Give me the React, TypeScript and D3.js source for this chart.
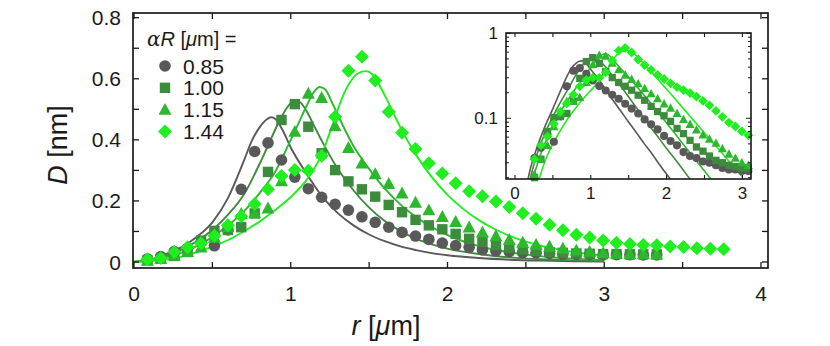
import React from 'react';
import * as d3 from 'd3';

// sample positions r [um] shared by every measured series
const rGrid = [0.086, 0.171, 0.257, 0.342, 0.428, 0.513, 0.599, 0.684, 0.77, 0.855, 0.941, 1.026, 1.112, 1.197, 1.283, 1.368, 1.454, 1.539, 1.625, 1.71, 1.796, 1.881, 1.967, 2.052, 2.138, 2.223, 2.309, 2.394, 2.48, 2.565, 2.651, 2.736, 2.822, 2.907, 2.993, 3.078, 3.164, 3.249, 3.335, 3.42, 3.506, 3.591, 3.677, 3.762];

// measured D [nm]
const d085 = [0.010, 0.018, 0.034, 0.045, 0.065, 0.053, 0.105, 0.238, 0.362, 0.390, 0.334, 0.278, 0.240, 0.212, 0.189, 0.170, 0.148, 0.130, 0.114, 0.097, 0.085, 0.074, 0.062, 0.054, 0.048, 0.040, 0.036, 0.034, 0.031, 0.030, 0.028, 0.026, 0.025, 0.025, 0.024, 0.024, 0.024, 0.023, 0.023];
const d100 = [0.006, 0.011, 0.020, 0.033, 0.070, 0.102, 0.105, 0.114, 0.159, 0.295, 0.465, 0.517, 0.443, 0.356, 0.301, 0.264, 0.238, 0.214, 0.187, 0.163, 0.138, 0.120, 0.107, 0.092, 0.076, 0.066, 0.055, 0.046, 0.041, 0.036, 0.032, 0.030, 0.028, 0.027, 0.026, 0.026, 0.025, 0.025, 0.025];
const d115 = [0.005, 0.011, 0.022, 0.033, 0.048, 0.080, 0.115, 0.158, 0.160, 0.176, 0.265, 0.427, 0.552, 0.538, 0.445, 0.374, 0.323, 0.288, 0.256, 0.225, 0.195, 0.170, 0.148, 0.132, 0.114, 0.097, 0.085, 0.073, 0.064, 0.057, 0.051, 0.044, 0.038, 0.034, 0.030, 0.028, 0.026, 0.026, 0.025];
const d144 = [0.009, 0.013, 0.033, 0.048, 0.061, 0.086, 0.120, 0.150, 0.190, 0.238, 0.282, 0.301, 0.299, 0.348, 0.476, 0.626, 0.672, 0.594, 0.492, 0.423, 0.370, 0.323, 0.290, 0.258, 0.232, 0.215, 0.198, 0.180, 0.160, 0.142, 0.122, 0.104, 0.089, 0.080, 0.070, 0.063, 0.059, 0.056, 0.055, 0.051, 0.049, 0.045, 0.043, 0.042];

// model curves [r, D]
const fit085 = [[0, 0.001], [0.1, 0.007], [0.15, 0.015], [0.2, 0.025], [0.3, 0.048], [0.4, 0.082], [0.5, 0.13], [0.6, 0.21], [0.7, 0.33], [0.75, 0.395], [0.8, 0.44], [0.85, 0.468], [0.875, 0.474], [0.9, 0.469], [0.95, 0.43], [1.0, 0.375], [1.1, 0.29], [1.2, 0.215], [1.3, 0.16], [1.4, 0.12], [1.5, 0.09], [1.6, 0.068], [1.7, 0.051], [1.8, 0.039], [1.9, 0.029], [2.0, 0.022], [2.2, 0.013], [2.4, 0.0075], [2.6, 0.0045], [2.8, 0.0026], [3.0, 0.0015]];
const fit100 = [[0, 0.001], [0.1, 0.006], [0.2, 0.019], [0.3, 0.04], [0.4, 0.068], [0.5, 0.105], [0.6, 0.155], [0.7, 0.22], [0.8, 0.32], [0.88, 0.41], [0.94, 0.475], [1.0, 0.52], [1.03, 0.528], [1.06, 0.523], [1.1, 0.495], [1.15, 0.445], [1.2, 0.395], [1.3, 0.305], [1.4, 0.235], [1.5, 0.178], [1.6, 0.134], [1.7, 0.101], [1.8, 0.076], [1.9, 0.058], [2.0, 0.044], [2.1, 0.034], [2.2, 0.026], [2.3, 0.0197], [2.4, 0.015], [2.6, 0.0089], [2.8, 0.0053], [3.0, 0.0032]];
const fit115 = [[0, 0.001], [0.1, 0.005], [0.2, 0.014], [0.3, 0.03], [0.4, 0.052], [0.5, 0.082], [0.6, 0.12], [0.7, 0.165], [0.8, 0.225], [0.9, 0.295], [1.0, 0.4], [1.05, 0.455], [1.1, 0.51], [1.15, 0.558], [1.185, 0.573], [1.22, 0.565], [1.27, 0.515], [1.32, 0.46], [1.4, 0.38], [1.5, 0.305], [1.6, 0.24], [1.7, 0.188], [1.8, 0.147], [1.9, 0.114], [2.0, 0.088], [2.1, 0.068], [2.2, 0.052], [2.3, 0.04], [2.4, 0.031], [2.5, 0.024], [2.6, 0.0185], [2.8, 0.011], [3.0, 0.0066]];
const fit144 = [[0, 0.001], [0.1, 0.003], [0.2, 0.008], [0.3, 0.017], [0.4, 0.032], [0.5, 0.05], [0.6, 0.072], [0.7, 0.1], [0.8, 0.132], [0.9, 0.17], [1.0, 0.213], [1.1, 0.268], [1.2, 0.355], [1.27, 0.455], [1.33, 0.54], [1.38, 0.59], [1.43, 0.618], [1.48, 0.625], [1.52, 0.615], [1.57, 0.575], [1.62, 0.525], [1.7, 0.44], [1.8, 0.35], [1.9, 0.278], [2.0, 0.22], [2.1, 0.174], [2.2, 0.137], [2.3, 0.108], [2.4, 0.085], [2.5, 0.067], [2.6, 0.053], [2.7, 0.042], [2.8, 0.033], [2.9, 0.026], [3.0, 0.0205]];

const labels = ['0.85', '1.00', '1.15', '1.44'];
const colors = ['#595959', '#3d8b3d', '#2cb82c', '#1fee1f'];
const shapes = ['circle', 'square', 'triangle', 'diamond'];

const xTickLabels = [0, 1, 2, 3, 4];
const yTickLabels = [0, 0.2, 0.4, 0.6, 0.8];
const insetXLabels = [0, 1, 2, 3];
const insetYLabels = [0.1, 1];

const series = labels.map((label, i) => ({
  label,
  color: colors[i],
  shape: shapes[i],
  points: [d085, d100, d115, d144][i].map((v, k) => ({ r: rGrid[k], d: v })),
  fit: [fit085, fit100, fit115, fit144][i],
}));

const FONT = '"Liberation Sans", Arial, Helvetica, sans-serif';
const INK = '#1a1a1a';

function Marker({ shape, x, y, s, color }: { shape: string; x: number; y: number; s: number; color: string }) {
  if (shape === 'circle') return <circle cx={x} cy={y} r={5.8 * s} fill={color} />;
  if (shape === 'square') return <rect x={x - 5.2 * s} y={y - 5.2 * s} width={10.4 * s} height={10.4 * s} fill={color} />;
  if (shape === 'triangle') {
    return <path d={`M${x},${y - 6.7 * s}L${x + 6.5 * s},${y + 5.2 * s}L${x - 6.5 * s},${y + 5.2 * s}Z`} fill={color} />;
  }
  return <path d={`M${x},${y - 7 * s}L${x + 7 * s},${y}L${x},${y + 7 * s}L${x - 7 * s},${y}Z`} fill={color} />;
}

const App = () => {
  // main panel
  const frame = { left: 133, right: 768, top: 13, bottom: 268 };
  const x = d3.scaleLinear().domain([0, 4]).range([134, 761]);
  const y = d3.scaleLinear().domain([0, 0.8]).range([262, 17.7]);

  // inset panel
  const inset = { left: 506, right: 751, top: 33, bottom: 179 };
  const xi = d3.scaleLinear().domain([0, 3]).range([515, 742.4]);
  const yi = d3.scaleLog().domain([0.0193, 1]).range([179, 33.3]);

  const line = d3.line<number[]>().x(d => x(d[0])).y(d => y(d[1])).curve(d3.curveMonotoneX);
  const lineI = d3.line<number[]>().x(d => xi(d[0])).y(d => yi(d[1])).curve(d3.curveMonotoneX);

  const mainXTicks = d3.range(0, 4.01, 0.5);
  const mainYTicks = d3.range(0, 0.81, 0.1);
  const insetXTicks = d3.range(0, 3.01, 0.5);
  const insetYTicks = yi.ticks();

  const rowY = (i: number) => 66 + i * 21.8;

  return (
    <svg width={830} height={346} style={{ position: 'absolute', left: 0, top: 0, background: '#fff' }} fontFamily={FONT}>
      <defs>
        <clipPath id="main-clip">
          <rect x={frame.left} y={frame.top} width={frame.right - frame.left} height={frame.bottom - frame.top} />
        </clipPath>
        <clipPath id="inset-clip">
          <rect x={inset.left} y={inset.top} width={inset.right - inset.left} height={inset.bottom - inset.top} />
        </clipPath>
      </defs>

      {/* fits */}
      <g clipPath="url(#main-clip)">
        {series.map(s => (
          <path key={s.label} d={line(s.fit) || ''} fill="none" stroke={s.color} strokeWidth={1.9} />
        ))}
      </g>

      {/* measured points */}
      {series.map(s => (
        <g key={s.label}>
          {s.points.map((p, k) => (
            <Marker key={k} shape={s.shape} x={x(p.r)} y={y(p.d)} s={1} color={s.color} />
          ))}
        </g>
      ))}

      {/* main frame and ticks */}
      <rect x={frame.left} y={frame.top} width={frame.right - frame.left} height={frame.bottom - frame.top} fill="none" stroke={INK} strokeWidth={1.7} />
      {mainXTicks.map(t => (
        <g key={`mx${t}`} stroke={INK} strokeWidth={1.3}>
          <line x1={x(t)} x2={x(t)} y1={frame.bottom} y2={frame.bottom - 6} />
          <line x1={x(t)} x2={x(t)} y1={frame.top} y2={frame.top + 6} />
        </g>
      ))}
      {mainYTicks.map(t => (
        <g key={`my${t}`} stroke={INK} strokeWidth={1.3}>
          <line x1={frame.left} x2={frame.left + 6} y1={y(t)} y2={y(t)} />
          <line x1={frame.right} x2={frame.right - 6} y1={y(t)} y2={y(t)} />
        </g>
      ))}
      {xTickLabels.map(t => (
        <text key={`xl${t}`} x={x(t)} y={301} fontSize={21} textAnchor="middle" fill={INK}>{t}</text>
      ))}
      {yTickLabels.map(t => (
        <text key={`yl${t}`} x={121} y={y(t) + 7.5} fontSize={21} textAnchor="end" fill={INK}>{t === 0 ? '0' : d3.format('.1f')(t)}</text>
      ))}

      {/* axis titles */}
      <text x={386} y={335} fontSize={27} textAnchor="middle" fill={INK}>
        <tspan fontStyle="italic">r</tspan> [<tspan fontStyle="italic">μ</tspan>m]
      </text>
      <text transform="translate(67,145) rotate(-90)" fontSize={27} textAnchor="middle" fill={INK}>
        <tspan fontStyle="italic">D</tspan> [nm]
      </text>

      {/* legend */}
      <text x={147} y={46} fontSize={20} fill={INK}>
        <tspan fontStyle="italic" fontFamily='"DejaVu Serif", "Liberation Serif", serif'>α</tspan><tspan fontStyle="italic">R</tspan> [<tspan fontStyle="italic">μ</tspan>m] =
      </text>
      {series.map((s, i) => (
        <g key={`lg${s.label}`}>
          <Marker shape={s.shape} x={165} y={rowY(i)} s={1} color={s.color} />
          <text x={183} y={rowY(i) + 7.5} fontSize={21} fill={INK}>{s.label}</text>
        </g>
      ))}

      {/* inset */}
      <rect x={inset.left} y={inset.top} width={inset.right - inset.left} height={inset.bottom - inset.top} fill="#fff" />
      <g clipPath="url(#inset-clip)">
        {series.map(s => (
          <path key={`if${s.label}`} d={lineI(s.fit.filter(d => d[0] <= 3.2)) || ''} fill="none" stroke={s.color} strokeWidth={1.6} />
        ))}
      </g>
      {series.map(s => (
        <g key={`ip${s.label}`}>
          {s.points.filter(p => p.r <= 3.12 && p.d >= 0.0193).map((p, k) => (
            <Marker key={k} shape={s.shape} x={xi(p.r)} y={yi(p.d)} s={0.7} color={s.color} />
          ))}
        </g>
      ))}
      <rect x={inset.left} y={inset.top} width={inset.right - inset.left} height={inset.bottom - inset.top} fill="none" stroke={INK} strokeWidth={1.6} />
      {insetXTicks.map(t => (
        <g key={`ix${t}`} stroke={INK} strokeWidth={1.1}>
          <line x1={xi(t)} x2={xi(t)} y1={inset.bottom} y2={inset.bottom - 4} />
          <line x1={xi(t)} x2={xi(t)} y1={inset.top} y2={inset.top + 4} />
        </g>
      ))}
      {insetYTicks.map(t => {
        const major = Math.abs(Math.log10(t) - Math.round(Math.log10(t))) < 1e-6;
        const len = major ? 5 : 3;
        return (
          <g key={`iy${t}`} stroke={INK} strokeWidth={1}>
            <line x1={inset.left} x2={inset.left + len} y1={yi(t)} y2={yi(t)} />
            <line x1={inset.right} x2={inset.right - len} y1={yi(t)} y2={yi(t)} />
          </g>
        );
      })}
      {insetXLabels.map(t => (
        <text key={`ixl${t}`} x={xi(t)} y={199} fontSize={17} textAnchor="middle" fill={INK}>{t}</text>
      ))}
      {insetYLabels.map(t => (
        <text key={`iyl${t}`} x={498} y={yi(t) + 6} fontSize={17} textAnchor="end" fill={INK}>{t}</text>
      ))}
    </svg>
  );
};

export default App;
